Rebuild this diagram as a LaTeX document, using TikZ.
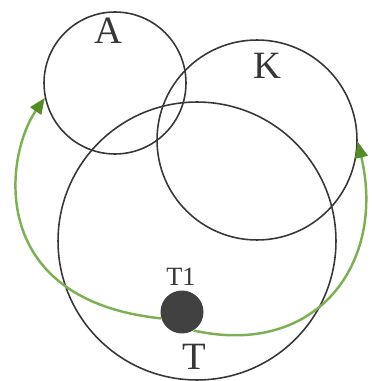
\documentclass[tikz,border=0pt]{standalone}
\usepackage{fontspec}
\setmainfont{Liberation Serif}
\usetikzlibrary{arrows.meta}
\definecolor{ink}{RGB}{55,55,55}
\definecolor{leaf}{RGB}{125,175,85}
\definecolor{leafdark}{RGB}{85,140,40}
\definecolor{dot}{RGB}{65,65,65}
\tikzset{
  ring/.style={circle,draw=ink,line width=0.9pt,minimum size=#1,inner sep=0pt},
  lbl/.style={font=\fontsize{22}{24}\selectfont,text=ink,inner sep=0pt},
  small lbl/.style={font=\fontsize{15}{17}\selectfont,text=ink,inner sep=0pt},
  move/.style={line width=1.4pt,draw=leaf,-{Triangle[length=3.2mm,width=2.6mm,color=leafdark]}},
}

\begin{document}
\begin{tikzpicture}[x=0.02cm,y=-0.02cm]
    \useasboundingbox (0,0) rectangle (371,381);
    % sets
    \node[ring=2.84cm] (A) at (115,83) {};
    \node[ring=4cm] (K) at (257,140) {};
    \node[ring=5.56cm] (T) at (197,241) {};
    \node[lbl] (la) at (108,31) {A};
    \node[lbl] (lk) at (267,66) {K};
    \node[lbl] (lt) at (194,357) {T};
    % element
    \node[circle,fill=dot,minimum size=0.86cm,inner sep=0pt] (t1) at (182,312) {};
    \node[small lbl] (lt1) at (181,277) {T1};
    % moves
    \draw[move] (t1.197) .. controls (-15,300) and (5,155) .. (A.192);
    \draw[move] (t1.-58) .. controls (318,358) and (386,262) .. (K.-1);
\end{tikzpicture}
\end{document}
